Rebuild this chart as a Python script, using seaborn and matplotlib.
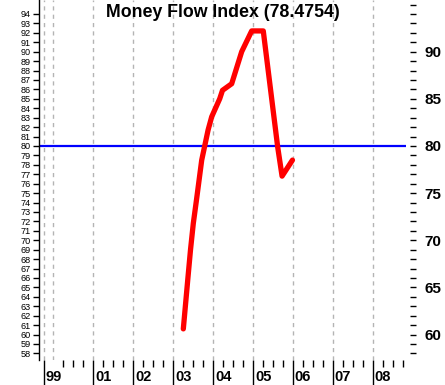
import matplotlib
matplotlib.use("Agg")
import matplotlib.pyplot as plt
import matplotlib.transforms as mtransforms
import numpy as np
import pandas as pd
import seaborn as sns

# ---- data ----
dates = [2003.26, 2003.375, 2003.44, 2003.51, 2003.59, 2003.72, 2003.80,
         2003.88, 2003.97, 2004.17, 2004.24, 2004.47, 2004.72, 2004.97,
         2005.26, 2005.62, 2005.73, 2005.99]
mfi = [60.6, 66.0, 69.0, 71.8, 74.3, 78.5, 80.1,
       81.7, 83.1, 85.0, 85.9, 86.6, 90.0, 92.2,
       92.2, 79.9, 76.8, 78.5]
threshold = 80
title_value = "78.4754"

year_ticks = [1999.775, 2001, 2002, 2003, 2004, 2005, 2006, 2007, 2008]
year_labels = ["99", "01", "02", "03", "04", "05", "06", "07", "08"]
grid_years = [1999.775, 2000, 2001, 2002, 2003, 2004, 2005, 2006, 2007, 2008]
left_ticks = list(range(58, 95))
right_ticks = [60, 65, 70, 75, 80, 85, 90]

df = pd.DataFrame({"date": dates, "mfi": mfi})

sns.set_theme(style="white")
plt.rcParams["font.family"] = ["Liberation Sans", "DejaVu Sans"]

W, H = 445, 385
fig = plt.figure(figsize=(W / 100, H / 100), dpi=100)
ax = fig.add_axes([39 / W, 1 - 360 / H, (406 - 39) / W, 360 / H])
ax.set_facecolor("white")

xmin, xmax = 1999.65, 2008.83
ymin, ymax = 57.3, 95.48

# grid lines
for g in grid_years:
    ax.axvline(g, color="#b4b4b4", lw=1, ls=(0, (3, 3)), zorder=1)

# threshold line
ax.axhline(threshold, color="#0000ff", lw=1.6, zorder=2)

sns.lineplot(data=df, x="date", y="mfi", ax=ax, color="#ff0000", lw=3.8,
             zorder=3, legend=False)

ax.set_xlim(xmin, xmax)
ax.set_ylim(ymin, ymax)
ax.set_xlabel("")
ax.set_ylabel("")

for s in ["top", "right", "bottom"]:
    ax.spines[s].set_visible(False)
ax.spines["left"].set_color("black")
ax.spines["left"].set_linewidth(1)

# left ticks
ax.set_yticks(left_ticks)
ax.set_yticklabels([str(t) for t in left_ticks], fontsize=6.6)
ax.tick_params(axis="y", which="major", left=True, length=4, width=1,
               color="black", pad=2, labelcolor="black")

# bottom ticks
ax.set_xticks(year_ticks)
ax.set_xticklabels(year_labels, fontsize=10.5, fontweight="bold")
minor = []
for y in range(2000, 2009):
    for q in (0.25, 0.5, 0.75):
        minor.append(y + q)
ax.set_xticks(minor, minor=True)
ax.tick_params(axis="x", which="major", bottom=True, length=18.5, width=1,
               color="black", pad=-11.5, labelcolor="black")
ax.tick_params(axis="x", which="minor", bottom=True, length=5, width=1,
               color="black")
offset = mtransforms.ScaledTranslation(2 / 100, 0, fig.dpi_scale_trans)
for lab in ax.get_xticklabels():
    lab.set_ha("left")
    lab.set_va("top")
    lab.set_transform(lab.get_transform() + offset)

# right axis
ax2 = ax.twinx()
ax2.set_ylim(ymin, ymax)
for s in ["top", "left", "bottom"]:
    ax2.spines[s].set_visible(False)
ax2.spines["right"].set_position(("outward", 3))
ax2.spines["right"].set_color("none")
ax2.set_yticks(right_ticks)
ax2.set_yticklabels([str(t) for t in right_ticks], fontsize=11,
                    fontweight="bold")
ax2.set_yticks(list(range(58, 96)), minor=True)
ax2.tick_params(axis="y", which="both", right=True, length=4, width=1,
                color="black", pad=6, labelcolor="black")
ax2.tick_params(axis="y", which="minor", labelright=False)
ax2.grid(False)

ax.text(0.5, 0.988, f"Money Flow Index ({title_value})", transform=ax.transAxes,
        ha="center", va="top", fontsize=12.8, fontweight="bold", color="black")

fig.savefig("out.png", dpi=100, facecolor="white")
